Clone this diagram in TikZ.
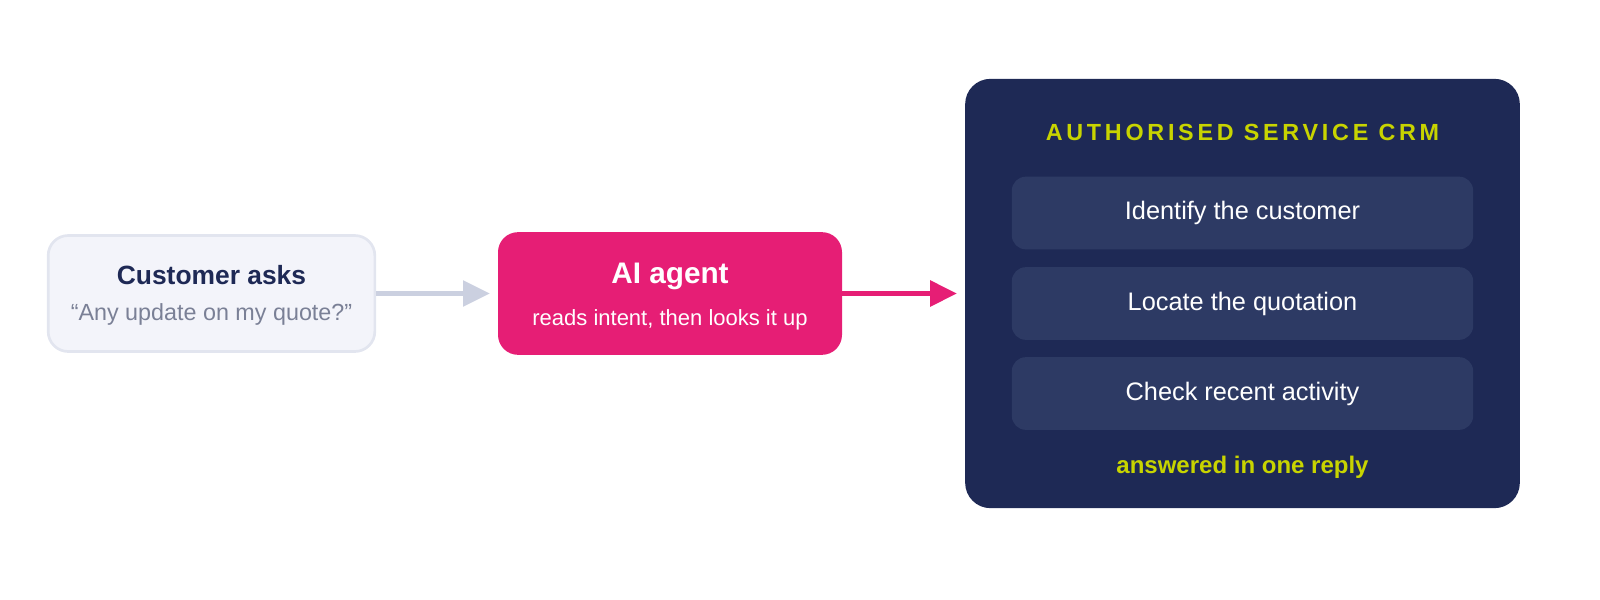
\documentclass[tikz,border=0pt]{standalone}
\usepackage{fontspec}
\setmainfont{Liberation Sans}
\newfontfamily\spacedfont[LetterSpace=16]{Liberation Sans}
\usetikzlibrary{arrows.meta}
\definecolor{navy}{HTML}{1E2955}
\definecolor{inner}{HTML}{2D3A64}
\definecolor{lime}{HTML}{C8D400}
\definecolor{mag}{HTML}{E61E75}
\definecolor{pale}{HTML}{F3F4FA}
\definecolor{paleb}{HTML}{E2E5EF}
\definecolor{greyarr}{HTML}{CBD0E0}
\definecolor{qgrey}{HTML}{7A8096}
\begin{document}
\begin{tikzpicture}[x=0.75pt,y=-0.75pt,
  crmstep/.style={fill=inner,rounded corners=10.5pt,minimum width=346pt,minimum height=54.5pt,text=white,font=\fontsize{19}{21}\selectfont},
  arr/.style={line width=3.2pt,-{Triangle[length=20pt,width=19pt]}}]
\useasboundingbox (0,0) rectangle (1600,600);
\node[draw=paleb,line width=2pt,fill=pale,rounded corners=15pt,minimum width=245pt,minimum height=87pt] (cust) at (211.5,293.5) {};
\node[text=navy,font=\bfseries\fontsize{19.8}{22}\selectfont] (custt) at (211.5,275) {Customer asks};
\node[text=qgrey,font=\fontsize{17.5}{19}\selectfont] (custq) at (211.5,314) {“Any update on my quote?”};
\node[fill=mag,rounded corners=15pt,minimum width=258pt,minimum height=92pt] (ai) at (670,293.5) {};
\node[text=white,font=\bfseries\fontsize{22.3}{24}\selectfont] (ait) at (670,276) {AI agent};
\node[text=white,font=\fontsize{16.5}{18}\selectfont] (ais) at (670,320) {reads intent, then looks it up};
\node[fill=navy,rounded corners=19pt,minimum width=416pt,minimum height=322pt] (crm) at (1242.5,293.5) {};
\node[text=lime,font=\spacedfont\bfseries\fontsize{17.5}{19}\selectfont] (crmt) at (1242.5,132) {AUTHORISED SERVICE CRM};
\node[crmstep] (s1) at (1242.5,213) {Identify the customer};
\node[crmstep] (s2) at (1242.5,303.5) {Locate the quotation};
\node[crmstep] (s3) at (1242.5,393.5) {Check recent activity};
\node[text=lime,font=\bfseries\fontsize{18}{20}\selectfont] (foot) at (1242.5,467) {answered in one reply};
\draw[arr,greyarr] (cust.east) -- ([xshift=-6pt]ai.west);
\draw[arr,mag] (ai.east) -- ([xshift=-6pt]crm.west);
\end{tikzpicture}
\end{document}
